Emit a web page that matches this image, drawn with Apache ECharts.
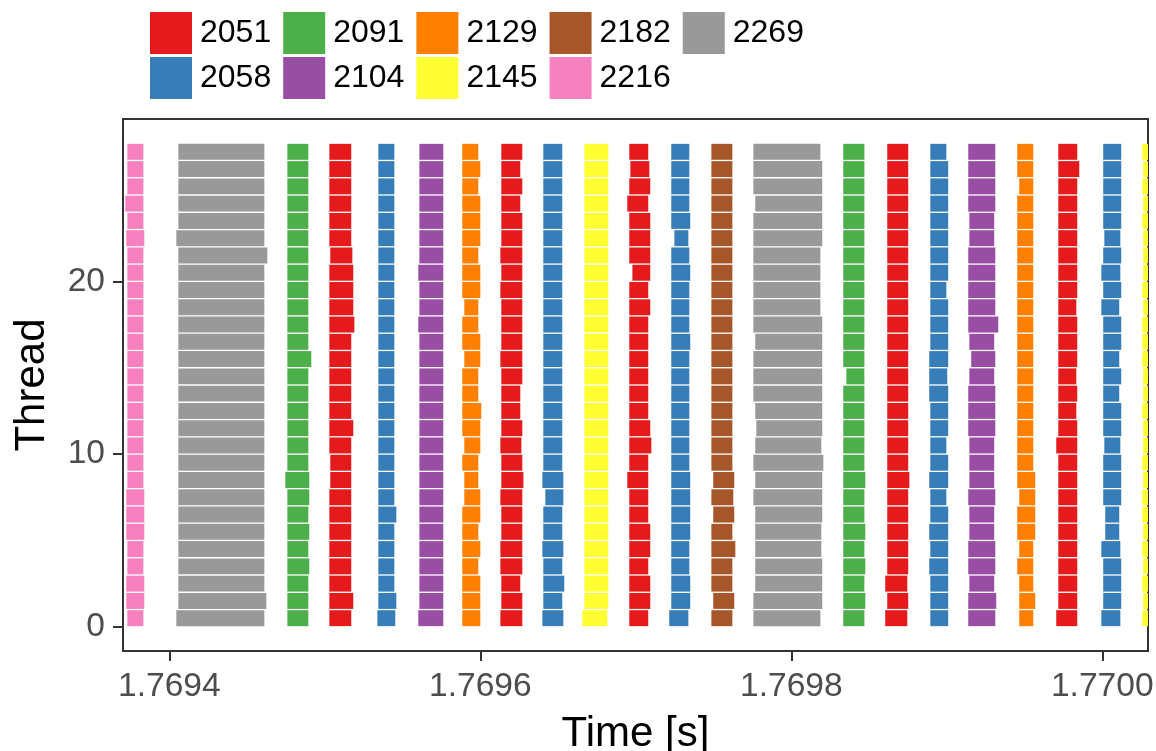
<!DOCTYPE html>
<html>
<head>
<meta charset="utf-8">
<script src="https://cdn.jsdelivr.net/npm/echarts@6/dist/echarts.min.js"></script>
<style>
  html, body { margin: 0; padding: 0; background: #fff; }
  #main { width: 1156px; height: 751px; }
</style>
</head>
<body>
<div id="main"></div>
<script>
// times are µs after T0
const T0 = 1.7694;
const xRangeUs = [-29.8, 629.4];
const xTicks = [1.7694, 1.7696, 1.7698, 1.7700];
const yTicks = [0, 10, 20];
const legendRow1 = ['2051', '2091', '2129', '2182', '2269'];
const legendRow2 = ['2058', '2104', '2145', '2216'];

// job of each block column, left to right
const colJob = ['2216','2269','2091','2051','2058','2104','2129','2051','2058','2145','2051',
                '2058','2182','2269','2091','2051','2058','2104','2129','2051','2058','2145'];

// start / end per thread (0..27) for every column
const colStart = [
  [-27.0,-27.7,-27.7,-27.0,-27.0,-27.7,-27.7,-27.7,-27.0,-27.0,-27.0,-27.0,-27.0,-27.0,-27.0,-27.0,-27.0,-27.0,-27.0,-27.0,-27.0,-27.0,-27.7,-27.0,-28.3,-27.0,-27.0,-27.0],
  [4.5,5.8,5.8,5.8,5.8,5.8,5.8,5.8,5.8,5.8,5.8,5.8,5.8,5.8,5.8,5.8,5.8,5.8,5.8,5.8,5.8,5.8,4.5,5.8,5.8,5.8,5.8,5.8],
  [75.9,75.9,75.9,75.9,75.9,75.9,75.9,75.9,74.6,75.9,75.9,75.9,75.9,75.9,75.9,75.9,75.9,75.9,75.9,75.9,75.9,75.9,75.9,75.9,75.9,75.9,75.9,75.9],
  [102.9,102.9,102.9,102.9,102.9,102.9,102.9,102.9,103.5,103.5,102.9,102.9,102.9,102.9,102.9,102.9,102.9,102.9,102.9,102.9,102.9,103.5,102.9,102.9,102.9,102.9,102.9,102.9],
  [133.8,134.4,134.4,134.4,134.4,134.4,134.4,134.4,134.4,134.4,134.4,134.4,134.4,134.4,134.4,134.4,134.4,134.4,134.4,134.4,134.4,134.4,134.4,134.4,134.4,134.4,134.4,134.4],
  [160.1,160.8,160.8,160.8,160.8,160.8,160.8,160.8,160.8,160.8,160.8,160.8,160.8,160.8,160.8,160.8,160.8,160.1,160.8,160.8,160.1,160.8,160.8,160.8,160.8,160.8,160.8,160.8],
  [188.4,188.4,188.4,188.4,188.4,188.4,188.4,189.7,189.7,188.4,189.7,188.4,188.4,188.4,188.4,189.7,188.4,188.4,189.7,188.4,188.4,188.4,188.4,188.4,188.4,188.4,188.4,188.4],
  [212.9,213.5,213.5,212.9,212.9,213.5,213.5,212.9,213.5,213.5,212.9,213.5,213.5,213.5,213.5,212.9,213.5,213.5,213.5,212.9,213.5,212.9,213.5,213.5,213.5,213.5,213.5,213.5],
  [239.9,240.5,240.5,240.5,239.9,240.5,240.5,241.8,239.9,240.5,240.5,240.5,240.5,240.5,240.5,240.5,240.5,240.5,240.5,240.5,240.5,240.5,240.5,240.5,240.5,240.5,240.5,240.5],
  [265.6,266.9,266.9,266.9,266.9,266.9,266.9,266.9,266.9,266.9,266.9,266.9,266.9,266.9,266.9,266.9,266.9,266.9,266.9,266.9,266.9,266.9,266.9,266.9,266.9,266.9,266.9,266.9],
  [295.8,295.8,295.8,295.8,295.8,295.8,295.8,295.8,294.5,295.8,295.8,295.8,295.8,295.8,295.8,295.8,295.8,295.8,295.8,295.8,297.8,295.8,295.8,295.8,294.5,295.8,296.5,295.8],
  [321.5,322.8,322.8,322.8,322.8,322.8,322.8,322.8,322.8,322.8,322.8,322.8,322.8,322.8,322.8,322.8,322.8,322.8,322.8,322.8,322.8,322.8,324.8,322.8,322.8,322.8,322.8,322.8],
  [348.6,349.8,348.6,348.6,348.6,348.6,349.8,348.6,349.8,348.6,348.6,348.6,348.6,348.6,348.6,348.6,348.6,348.6,348.6,348.6,348.6,348.6,348.6,348.6,348.6,348.6,348.6,348.6],
  [375.6,375.6,376.8,376.8,376.8,376.8,376.8,375.6,376.8,375.6,376.8,377.5,376.8,375.6,375.6,375.6,376.8,375.6,375.6,375.6,375.6,375.6,375.6,375.6,376.8,375.6,375.6,375.6],
  [433.4,433.4,433.4,433.4,433.4,433.4,433.4,433.4,433.4,433.4,433.4,433.4,433.4,433.4,435.4,433.4,433.4,433.4,433.4,433.4,433.4,433.4,433.4,433.4,433.4,433.4,433.4,433.4],
  [460.4,461.7,460.4,461.7,461.7,461.7,461.7,461.7,461.7,461.7,461.7,461.7,461.7,461.7,461.7,461.7,461.7,461.7,461.7,461.7,461.7,461.7,461.7,461.7,461.7,461.7,461.7,461.7],
  [489.4,489.4,489.4,488.7,489.4,488.7,489.4,489.4,488.7,489.4,489.4,489.4,489.4,488.7,488.7,488.7,489.4,489.4,489.4,489.4,489.4,489.4,489.4,489.4,489.4,489.4,489.4,489.4],
  [513.8,513.8,514.5,513.8,513.8,514.5,514.5,513.8,514.5,514.5,514.5,513.8,513.8,513.8,514.5,515.7,514.5,513.8,513.8,513.8,513.8,513.8,514.5,514.5,513.8,513.8,513.8,513.8],
  [546.6,546.6,546.6,545.3,546.6,545.3,545.3,546.6,545.3,545.3,545.3,545.3,545.3,545.3,545.3,545.3,545.3,545.3,545.3,545.3,545.3,545.3,545.3,545.3,545.3,546.6,545.3,545.3],
  [570.4,571.7,571.7,571.7,571.7,571.7,571.7,571.7,571.7,571.7,570.4,571.7,571.7,571.7,571.7,571.7,571.7,571.7,571.7,571.7,571.7,571.7,571.7,571.7,571.7,571.7,571.7,571.7],
  [599.4,600.6,600.6,600.6,599.4,601.9,601.9,600.6,600.6,600.6,601.3,600.6,600.6,600.6,600.6,600.6,600.6,600.6,599.4,600.6,599.4,600.6,601.3,600.6,600.6,600.6,600.6,600.6],
  [625.7,626.3,625.7,626.3,625.7,626.3,625.7,625.7,626.3,625.7,626.3,626.3,625.7,626.3,626.3,625.7,625.7,625.7,626.3,625.7,626.3,626.3,626.3,625.7,626.3,625.7,626.3,625.7]
];
const colEnd = [
  [-16.7,-16.1,-16.1,-16.7,-16.7,-16.1,-16.1,-16.1,-16.7,-16.7,-16.7,-16.7,-16.7,-16.7,-16.7,-16.7,-16.7,-16.7,-16.7,-16.7,-16.7,-16.7,-16.1,-16.7,-16.7,-16.7,-16.7,-16.7],
  [61.1,62.4,61.1,61.1,61.1,61.1,61.1,61.1,61.1,61.1,61.1,61.1,61.1,61.1,61.1,61.1,61.1,61.1,61.1,61.1,61.1,63.0,61.1,61.1,61.1,61.1,61.1,61.1],
  [89.4,89.4,89.4,90.0,89.4,90.0,89.4,90.0,90.0,89.4,89.4,89.4,89.4,89.4,89.4,91.3,89.4,89.4,89.4,89.4,89.4,89.4,89.4,89.4,89.4,89.4,89.4,89.4],
  [117.0,118.3,117.0,117.0,117.0,117.0,117.0,117.0,117.0,117.0,117.0,118.3,117.0,117.0,117.0,117.0,117.0,119.0,118.3,118.3,118.3,117.7,117.0,117.0,117.0,117.0,117.0,117.0],
  [145.3,146.0,144.7,144.7,144.7,144.7,146.0,144.7,144.7,144.7,144.7,144.7,144.7,144.7,144.7,144.7,144.7,144.7,144.7,144.7,144.7,144.7,144.7,144.7,144.7,144.7,144.7,144.7],
  [176.2,176.2,176.2,176.2,176.2,176.2,176.2,176.2,176.2,176.2,176.2,176.2,176.2,176.2,176.2,176.2,176.2,176.2,176.2,176.2,176.2,176.2,176.2,176.2,176.2,176.2,176.2,176.2],
  [200.0,200.0,200.0,198.7,200.0,198.7,200.0,200.0,198.7,198.7,200.0,200.0,200.6,198.7,198.7,200.0,200.0,198.7,198.7,200.0,200.0,198.7,200.0,200.0,200.0,198.7,200.0,198.7],
  [227.0,227.0,225.7,227.0,227.0,227.0,227.0,227.0,227.7,227.0,226.4,227.0,225.7,225.7,227.0,227.0,227.0,227.0,227.0,227.0,227.0,227.0,227.0,227.0,225.7,227.0,225.7,227.0],
  [253.4,252.7,254.0,252.7,253.4,252.7,252.7,253.4,253.4,252.7,252.7,252.7,252.7,252.7,252.7,252.7,252.7,252.7,252.7,252.7,252.7,252.7,252.7,252.7,252.7,252.7,252.7,252.7],
  [281.7,282.3,282.3,282.3,282.3,282.3,282.3,282.3,282.3,282.3,282.3,282.3,282.3,282.3,282.3,282.3,282.3,282.3,282.3,282.3,282.3,282.3,282.3,282.3,282.3,282.3,282.3,282.3],
  [308.0,309.3,309.3,308.0,309.3,309.3,308.0,308.0,308.0,308.0,310.0,309.3,308.0,308.0,308.0,308.0,308.0,308.0,309.3,308.0,309.3,309.3,309.3,309.3,308.0,309.3,308.7,308.0],
  [333.8,335.0,335.0,334.4,334.4,335.0,335.0,335.0,335.0,334.4,334.4,334.4,334.4,334.4,334.4,334.4,335.0,334.4,334.4,334.4,335.0,334.4,333.8,335.0,334.4,334.4,334.4,334.4],
  [362.1,363.3,362.1,362.1,364.0,362.1,363.3,362.7,363.3,362.1,362.1,362.1,362.1,362.1,362.1,362.1,362.1,362.1,362.1,362.1,362.1,362.1,362.1,362.1,362.1,362.1,362.1,362.1],
  [418.7,419.9,419.9,419.9,419.3,419.3,419.9,419.9,419.9,420.6,419.3,419.9,419.9,419.9,419.9,419.9,419.9,419.9,418.7,418.7,418.7,418.7,419.9,419.9,419.9,419.9,419.9,418.7],
  [447.0,447.6,447.0,447.6,447.0,447.6,447.0,447.0,447.6,447.0,447.0,447.0,447.0,447.0,447.0,447.0,447.0,447.0,447.0,447.0,447.0,447.0,447.0,447.0,447.0,447.0,447.0,447.0],
  [474.6,475.2,474.6,475.2,475.2,475.2,475.2,475.2,475.9,475.2,475.2,475.2,475.2,475.2,475.2,475.2,475.2,475.2,475.2,475.2,475.2,475.2,475.2,475.2,475.2,475.2,475.2,475.2],
  [500.9,500.9,500.9,500.9,500.9,500.9,500.9,499.7,500.9,500.9,499.7,500.9,500.9,500.9,500.3,500.9,500.9,500.9,500.9,499.7,500.9,500.9,500.9,500.9,500.9,500.9,500.9,499.7],
  [531.2,531.8,530.5,531.2,531.2,530.5,530.5,531.2,530.5,530.5,530.5,531.2,531.2,531.2,530.5,531.2,530.5,533.1,531.2,531.2,531.2,531.2,530.5,530.5,531.2,531.2,531.2,531.2],
  [555.6,556.9,555.6,555.6,555.6,556.9,556.9,556.9,556.9,555.6,555.6,555.6,555.6,555.6,555.6,555.6,555.6,555.6,555.6,555.6,555.6,555.6,555.6,555.6,555.6,555.6,555.6,555.6],
  [583.9,583.9,583.9,583.9,583.9,583.9,583.9,583.9,583.9,583.9,583.9,583.9,583.3,583.9,583.3,583.9,583.9,583.9,583.3,583.9,583.9,583.9,583.9,583.9,583.9,583.9,585.2,583.9],
  [611.6,612.2,612.2,612.2,611.6,610.9,610.9,612.2,612.2,612.2,611.6,612.2,612.2,610.9,612.2,610.9,612.2,612.2,610.9,612.2,611.6,612.2,611.6,612.2,612.2,612.2,612.2,612.2],
  [641.5,641.5,641.5,641.5,641.5,641.5,641.5,641.5,641.5,641.5,641.5,641.5,641.5,641.5,641.5,641.5,641.5,641.5,641.5,641.5,641.5,641.5,641.5,641.5,641.5,641.5,641.5,641.5]
];

// Set1 palette
const jobColor = {
  '2051': '#E41A1C', '2058': '#377EB8', '2091': '#4DAF4A', '2104': '#984EA3', '2129': '#FF7F00',
  '2145': '#FFFF33', '2182': '#A65628', '2216': '#F781BF', '2269': '#999999'
};

const FONT = 'Liberation Sans, Arial, sans-serif';
const toSec = us => T0 + us * 1e-6;

// group blocks by job
const byJob = {};
colJob.forEach((job, c) => {
  if (!byJob[job]) byJob[job] = [];
  colStart[c].forEach((s, thread) => {
    byJob[job].push([toSec(s), toSec(colEnd[c][thread]), thread]);
  });
});

function renderBlock(params, api) {
  const topLeft = api.coord([api.value(0), api.value(2) + 1]);
  const botRight = api.coord([api.value(1), api.value(2)]);
  const cs = params.coordSys;
  const rect = echarts.graphic.clipRectByRect({
    x: topLeft[0],
    y: topLeft[1] + 0.65,
    width: botRight[0] - topLeft[0],
    height: botRight[1] - topLeft[1] - 1.3
  }, { x: cs.x, y: cs.y, width: cs.width, height: cs.height });
  return rect && {
    type: 'rect',
    shape: rect,
    style: { fill: api.visual('color') }
  };
}

const allJobs = legendRow1.concat(legendRow2);
const series = allJobs.map(job => ({
  name: job,
  type: 'custom',
  renderItem: renderBlock,
  itemStyle: { color: jobColor[job] },
  encode: { x: [0, 1], y: 2 },
  data: byJob[job] || []
}));

const legendBase = {
  left: 150,
  padding: 0,
  orient: 'horizontal',
  icon: 'rect',
  itemWidth: 42,
  itemHeight: 42,
  itemGap: 12,
  selectedMode: false,
  textStyle: { fontSize: 32, color: '#000', fontFamily: FONT, padding: [0, 0, 0, 3] }
};

const chart = echarts.init(document.getElementById('main'), null, { renderer: 'canvas' });
chart.setOption({
  animation: false,
  backgroundColor: '#fff',
  textStyle: { fontFamily: FONT },
  legend: [
    Object.assign({}, legendBase, { top: 12, data: legendRow1 }),
    Object.assign({}, legendBase, { top: 57, data: legendRow2 })
  ],
  grid: {
    left: 123, right: 8, top: 119, bottom: 100,
    outerBoundsMode: 'none',
    containLabel: false,
    show: true, borderColor: '#333', borderWidth: 2, backgroundColor: '#fff'
  },
  xAxis: {
    type: 'value',
    min: toSec(xRangeUs[0]),
    max: toSec(xRangeUs[1]),
    name: 'Time [s]',
    nameLocation: 'middle',
    nameGap: 62,
    nameTextStyle: { fontSize: 42, color: '#000', fontFamily: FONT },
    splitLine: { show: false },
    axisLine: { show: true, onZero: false, lineStyle: { color: '#333', width: 2 } },
    axisTick: { show: true, length: 10, lineStyle: { color: '#333', width: 2 }, customValues: xTicks },
    axisLabel: {
      color: '#4D4D4D', fontSize: 33.6, margin: 19, fontFamily: FONT,
      customValues: xTicks,
      formatter: v => v.toFixed(4)
    }
  },
  yAxis: {
    type: 'value',
    min: -1.4,
    max: 29.4,
    name: 'Thread',
    nameLocation: 'middle',
    nameGap: 70,
    nameTextStyle: { fontSize: 42, color: '#000', fontFamily: FONT },
    splitLine: { show: false },
    axisLine: { show: true, onZero: false, lineStyle: { color: '#333', width: 2 } },
    axisTick: { show: true, length: 10, lineStyle: { color: '#333', width: 2 }, customValues: yTicks },
    axisLabel: {
      color: '#4D4D4D', fontSize: 33.6, margin: 18, fontFamily: FONT,
      customValues: yTicks
    }
  },
  series: series
});
</script>
</body>
</html>
